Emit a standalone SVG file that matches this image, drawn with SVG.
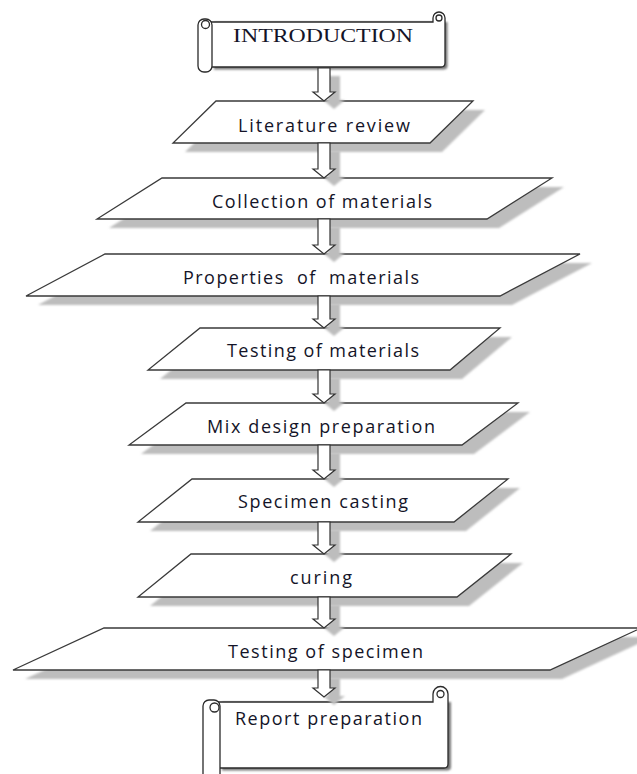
<svg xmlns="http://www.w3.org/2000/svg" width="637" height="774" viewBox="0 0 637 774">
<defs>
<filter id="soft" x="-5%" y="-20%" width="110%" height="140%"><feGaussianBlur stdDeviation="0.8"/></filter>
<filter id="dark" x="-5%" y="-10%" width="110%" height="120%"><feGaussianBlur stdDeviation="1"/></filter>
</defs>
<style>
.shape{fill:#ffffff;stroke:#3a3a3a;stroke-width:1.3;stroke-linejoin:miter}
.shadow{fill:#bdbdbd;filter:url(#soft)}
.scrollshadow{fill:#777777;filter:url(#dark)}
.scroll{fill:#ffffff;stroke:#2a2a2a;stroke-width:1.3}
.lbl{font-family:"Open Sans","Liberation Sans",sans-serif;font-size:18px;fill:#141428;text-anchor:middle}
.ttl{font-family:"Liberation Serif",serif;font-size:19.5px;fill:#141428;text-anchor:middle}
.arrow{fill:#ffffff;stroke:#333333;stroke-width:1.2;stroke-linejoin:miter}
.ashadow{fill:#bdbdbd;filter:url(#soft)}
</style>
<rect width="637" height="774" fill="#ffffff"/>

<g id="introduction">
<path class="scrollshadow" d="M214,22 H447.5 V66 Q447.5,69.5 443,69.5 H214 Z"/>
<path class="scroll" d="M205,22 H433 V18 A6,6 0 0 1 445,18 V63 Q445,67 441,67 H212"/>
<rect class="scroll" x="198" y="19" width="14" height="53" rx="6"/>
<circle class="scroll" cx="205.5" cy="24.5" r="4"/>
<circle class="scroll" cx="439" cy="18" r="3"/>
<text class="ttl" x="323" y="42" textLength="180" lengthAdjust="spacingAndGlyphs">INTRODUCTION</text>
</g>

<g id="literature-review">
<polygon class="shadow" points="228,110 485,110 442,152 185,152"/>
<polygon class="shape" points="216,101 473,101 430,143 173,143"/>
<text class="lbl" x="324" y="132" textLength="172" lengthAdjust="spacing">Literature review</text>
</g>

<g id="collection-of-materials">
<polygon class="shadow" points="174,187 564,187 499,228 109,228"/>
<polygon class="shape" points="162,178 552,178 487,219 97,219"/>
<text class="lbl" x="322" y="208" textLength="220" lengthAdjust="spacing">Collection of materials</text>
</g>

<g id="properties-of-materials">
<polygon class="shadow" points="117,263 592,263 512,305 38,305"/>
<polygon class="shape" points="105,254 580,254 500,296 26,296"/>
<text class="lbl" x="301" y="284" textLength="236" lengthAdjust="spacing" xml:space="preserve">Properties  of  materials</text>
</g>

<g id="testing-of-materials">
<polygon class="shadow" points="212,337 512,337 462,379 160,379"/>
<polygon class="shape" points="200,328 500,328 450,370 148,370"/>
<text class="lbl" x="323" y="357" textLength="192" lengthAdjust="spacing">Testing of materials</text>
</g>

<g id="mix-design-preparation">
<polygon class="shadow" points="198,412 530,412 474,454 141,454"/>
<polygon class="shape" points="186,403 518,403 462,445 129,445"/>
<text class="lbl" x="321" y="432.5" textLength="228" lengthAdjust="spacing">Mix design preparation</text>
</g>

<g id="specimen-casting">
<polygon class="shadow" points="204,488 520,488 466,531 150,531"/>
<polygon class="shape" points="192,479 508,479 454,522 138,522"/>
<text class="lbl" x="323" y="508" textLength="170" lengthAdjust="spacing">Specimen casting</text>
</g>

<g id="curing">
<polygon class="shadow" points="203,563 523,563 469,606 150,606"/>
<polygon class="shape" points="191,554 511,554 457,597 138,597"/>
<text class="lbl" x="321" y="584" textLength="62" lengthAdjust="spacing">curing</text>
</g>

<g id="testing-of-specimen">
<polygon class="shadow" points="116,637 653,637 562,679 25,679"/>
<polygon class="shape" points="104,628 641,628 550,670 13,670"/>
<text class="lbl" x="325.5" y="658" textLength="195" lengthAdjust="spacing">Testing of specimen</text>
</g>

<g id="report-preparation">
<path class="scrollshadow" d="M222,702 H451 V767 Q451,770.5 447,770.5 H222 Z"/>
<path class="scroll" d="M209,702 H433 V694 A7,7 0 0 1 448,694 V764 Q448,768 444,768 H220"/>
<rect class="scroll" x="203" y="700" width="17" height="90" rx="6"/>
<circle class="scroll" cx="214.5" cy="707.5" r="4.5"/>
<circle class="scroll" cx="440.5" cy="694" r="3.5"/>
<text class="lbl" x="328.5" y="725" textLength="187" lengthAdjust="spacing">Report preparation</text>
</g>

<g id="connectors">
<g transform="translate(10,8)">
<polygon class="ashadow" points="318,68 330,68 330,92 335,92 324,101 313,92 318,92"/>
<polygon class="ashadow" points="318,143 330,143 330,169 335,169 324,178 313,169 318,169"/>
<polygon class="ashadow" points="318,219 330,219 330,245 335,245 324,254 313,245 318,245"/>
<polygon class="ashadow" points="318,296 330,296 330,319 335,319 324,328 313,319 318,319"/>
<polygon class="ashadow" points="318,370 330,370 330,394 335,394 324,403 313,394 318,394"/>
<polygon class="ashadow" points="318,445 330,445 330,470 335,470 324,479 313,470 318,470"/>
<polygon class="ashadow" points="318,522 330,522 330,545 335,545 324,554 313,545 318,545"/>
<polygon class="ashadow" points="318,597 330,597 330,619 335,619 324,628 313,619 318,619"/>
<polygon class="ashadow" points="318,670 330,670 330,688 335,688 324,697 313,688 318,688"/>
</g>
<polygon class="arrow" points="318,68 330,68 330,92 335,92 324,101 313,92 318,92"/>
<polygon class="arrow" points="318,143 330,143 330,169 335,169 324,178 313,169 318,169"/>
<polygon class="arrow" points="318,219 330,219 330,245 335,245 324,254 313,245 318,245"/>
<polygon class="arrow" points="318,296 330,296 330,319 335,319 324,328 313,319 318,319"/>
<polygon class="arrow" points="318,370 330,370 330,394 335,394 324,403 313,394 318,394"/>
<polygon class="arrow" points="318,445 330,445 330,470 335,470 324,479 313,470 318,470"/>
<polygon class="arrow" points="318,522 330,522 330,545 335,545 324,554 313,545 318,545"/>
<polygon class="arrow" points="318,597 330,597 330,619 335,619 324,628 313,619 318,619"/>
<polygon class="arrow" points="318,670 330,670 330,688 335,688 324,697 313,688 318,688"/>
</g>
</svg>
